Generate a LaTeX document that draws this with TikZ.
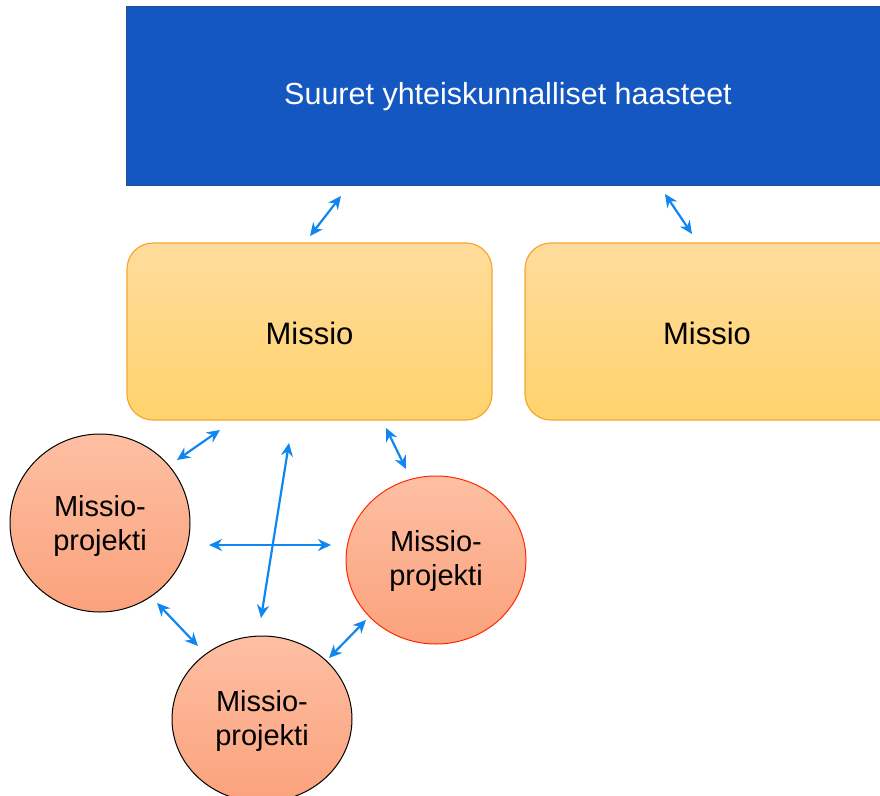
\documentclass[tikz,border=0pt]{standalone}
\usepackage{fontspec}
\setmainfont{Liberation Sans}
\usetikzlibrary{arrows.meta}
\definecolor{topblue}{HTML}{1557C0}
\definecolor{topedge}{HTML}{24508F}
\definecolor{mtop}{HTML}{FFDC9C}
\definecolor{mbot}{HTML}{FFD36C}
\definecolor{medge}{HTML}{F8A531}
\definecolor{ptop}{HTML}{FDBFA3}
\definecolor{pbot}{HTML}{FBA27C}
\definecolor{redge}{HTML}{FF2A00}
\definecolor{arr}{HTML}{0F86F0}
\begin{document}
\begin{tikzpicture}[x=1pt,y=-1pt,
  topbox/.style={draw=topedge,line width=0.8pt,fill=topblue},
  missiobox/.style={draw=medge,line width=1.2pt,rounded corners=26pt,top color=mtop,bottom color=mbot},
  titletext/.style={text=white,font=\fontsize{30.5}{36}\selectfont},
  missiotext/.style={font=\fontsize{31}{36}\selectfont},
  projtext/.style={align=center,font=\fontsize{29}{34}\selectfont},
  projfill/.style={line width=1pt,top color=ptop,bottom color=pbot},
  link/.style={draw=arr,line width=2.2pt,{Stealth[length=13pt,width=12pt]}-{Stealth[length=13pt,width=12pt]}}
]
\useasboundingbox (0,0) rectangle (880,795);
\begin{scope}
\clip (0,0) rectangle (880,795);
% top box
\path[topbox] (126,6) rectangle (895,185);
\node[titletext] (title) at (508,97) {Suuret yhteiskunnalliset haasteet};
% missio boxes
\path[missiobox] (127,243) rectangle (492,420);
\node[missiotext] (m1) at (309.5,333) {Missio};
\path[missiobox] (525,243) rectangle (910,420);
\node[missiotext] (m2) at (707,333) {Missio};
% circles
\path[projfill,draw=black] (100,523) ellipse [x radius=90,y radius=89];
\node[projtext] (p1) at (100,526) {Missio-\\projekti};
\path[projfill,draw=redge] (436,560) ellipse [x radius=90,y radius=84];
\node[projtext] (p2) at (436,561) {Missio-\\projekti};
\path[projfill,draw=black] (262,719) ellipse [x radius=90,y radius=83];
\node[projtext] (p3) at (262,721) {Missio-\\projekti};
% arrow endpoints
\coordinate (a1s) at (310,236); \coordinate (a1e) at (341,196);
\coordinate (a2s) at (692,234); \coordinate (a2e) at (665,194);
\coordinate (a3s) at (177,460); \coordinate (a3e) at (220,430);
\coordinate (a4s) at (386,428); \coordinate (a4e) at (406,469);
\coordinate (a5s) at (289,443); \coordinate (a5e) at (261,618);
\coordinate (a6s) at (209,545); \coordinate (a6e) at (331,545);
\coordinate (a7s) at (157,603); \coordinate (a7e) at (198,646);
\coordinate (a8s) at (329,658); \coordinate (a8e) at (366,620);
\foreach \i in {1,...,8} {\draw[link] (a\i s) -- (a\i e);}
\end{scope}
\end{tikzpicture}
\end{document}
